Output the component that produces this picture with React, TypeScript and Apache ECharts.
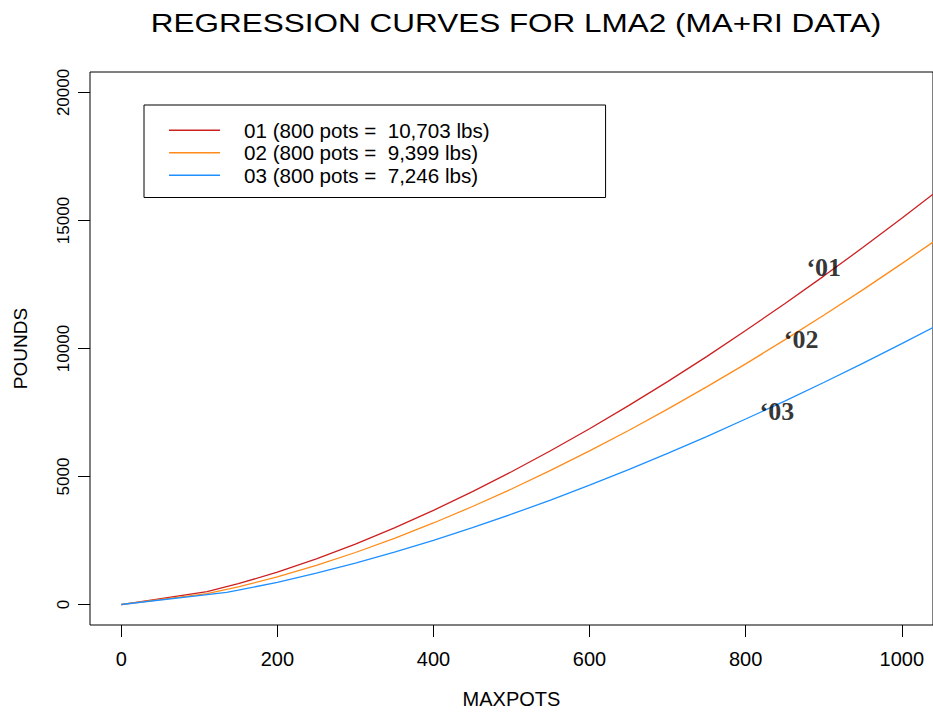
import React, { useRef, useEffect } from "react";
import * as echarts from "echarts";

const TITLE = "REGRESSION CURVES FOR LMA2 (MA+RI DATA)";
const X_NAME = "MAXPOTS";
const Y_NAME = "POUNDS";

const seriesNames = [
  "01 (800 pots =  10,703 lbs)",
  "02 (800 pots =  9,399 lbs)",
  "03 (800 pots =  7,246 lbs)",
];
const seriesColors = ["#CD2020", "#FF8C1A", "#1E90FF"];

const pots01 = [0, 110, 150, 200, 250, 300, 350, 400, 450, 500, 550, 600, 650, 700, 750, 800, 850, 900, 950, 1000, 1040];
const lbs01 = [0, 504, 812, 1264, 1783, 2361, 2993, 3678, 4409, 5185, 6005, 6866, 7767, 8707, 9684, 10703, 11746, 12828, 13942, 15088, 16027];

const pots02 = [0, 110, 150, 200, 250, 300, 350, 400, 450, 500, 550, 600, 650, 700, 750, 800, 850, 900, 950, 1000, 1040];
const lbs02 = [0, 425, 690, 1080, 1530, 2032, 2584, 3185, 3828, 4512, 5237, 5999, 6798, 7631, 8499, 9399, 10335, 11299, 12291, 13316, 14154];

const pots03 = [0, 135, 150, 200, 250, 300, 350, 400, 450, 500, 550, 600, 650, 700, 750, 800, 850, 900, 950, 1000, 1040];
const lbs03 = [0, 476, 559, 868, 1222, 1615, 2044, 2508, 3006, 3527, 4080, 4660, 5268, 5900, 6557, 7246, 7945, 8672, 9420, 10189, 10819];

const curveLabelText = ["\u201801", "\u201802", "\u201803"];
const curveLabelX = [900, 871, 840];
const curveLabelY = [13150, 10370, 7550];

const xTicks = [0, 200, 400, 600, 800, 1000];
const yTicks = [0, 5000, 10000, 15000, 20000];

const FONT = '"Liberation Sans", Arial, Helvetica, sans-serif';
const SERIF = '"Liberation Serif", "Times New Roman", serif';

export default function App() {
  const ref = useRef<HTMLDivElement>(null);
  useEffect(() => {
    document.body.style.margin = "0";
    document.body.style.overflow = "hidden";
    const chart = echarts.init(ref.current!, null, { renderer: "svg" });
    const lines = [
      [pots01, lbs01],
      [pots02, lbs02],
      [pots03, lbs03],
    ].map(([xs, ys], i) => ({
      name: seriesNames[i],
      type: "line",
      data: xs.map((x, j) => [x, ys[j]]),
      symbol: "none",
      smooth: false,
      lineStyle: { color: seriesColors[i], width: 1.3 },
      itemStyle: { color: seriesColors[i] },
      z: 3,
    }));
    chart.setOption({
      animation: false,
      backgroundColor: "#fff",
      graphic: [
        {
          type: "text",
          x: 516,
          y: 11,
          scaleX: 1.26,
          style: {
            text: TITLE,
            fill: "#000",
            fontSize: 25,
            fontFamily: FONT,
            align: "center",
            verticalAlign: "top",
          },
        },
      ],
      grid: {
        left: 90,
        top: 72,
        width: 848,
        height: 553,
        show: true,
        borderColor: "#000",
        borderWidth: 1,
        backgroundColor: "transparent",
      },
      legend: {
        orient: "vertical",
        left: 144,
        top: 105,
        data: seriesNames,
        icon: "rect",
        itemWidth: 51,
        itemHeight: 1.5,
        itemGap: 0,
        padding: [14, 116, 11, 25],
        borderColor: "#000",
        borderWidth: 1,
        backgroundColor: "#fff",
        selectedMode: false,
        textStyle: {
          fontSize: 20.6,
          fontFamily: FONT,
          color: "#000",
          lineHeight: 22.5,
          padding: [0, 0, 0, 19],
        },
      },
      xAxis: {
        type: "value",
        min: -40,
        max: 1040,
        name: X_NAME,
        nameLocation: "middle",
        nameGap: 64,
        nameTextStyle: { fontSize: 20, fontFamily: FONT, color: "#000" },
        axisLine: { show: false, onZero: false },
        axisTick: {
          show: true,
          length: 12,
          customValues: xTicks,
          lineStyle: { color: "#000", width: 1 },
        },
        axisLabel: {
          customValues: xTicks,
          formatter: (v: number) => String(v),
          fontSize: 20,
          fontFamily: FONT,
          color: "#000",
          margin: 24,
        },
        splitLine: { show: false },
      },
      yAxis: {
        type: "value",
        min: -800,
        max: 20800,
        name: Y_NAME,
        nameLocation: "middle",
        nameGap: 60,
        nameRotate: 90,
        nameTextStyle: { fontSize: 19, fontFamily: FONT, color: "#000" },
        axisLine: { show: false, onZero: false },
        axisTick: {
          show: true,
          length: 12,
          customValues: yTicks,
          lineStyle: { color: "#000", width: 1 },
        },
        axisLabel: {
          customValues: yTicks,
          formatter: (v: number) => String(v),
          rotate: 90,
          fontSize: 17,
          fontFamily: FONT,
          color: "#000",
          margin: 18,
        },
        splitLine: { show: false },
      },
      series: [
        ...lines,
        {
          name: "curve labels",
          type: "scatter",
          data: curveLabelX.map((x, i) => [x, curveLabelY[i]]),
          symbolSize: 0,
          z: 5,
          label: {
            show: true,
            position: "inside",
            formatter: (p: any) => curveLabelText[p.dataIndex],
            fontFamily: SERIF,
            fontWeight: "bold",
            fontSize: 26,
            color: "#000",
          },
        },
      ],
    });
    return () => chart.dispose();
  }, []);
  return <div ref={ref} style={{ width: 933, height: 715 }} />;
}
